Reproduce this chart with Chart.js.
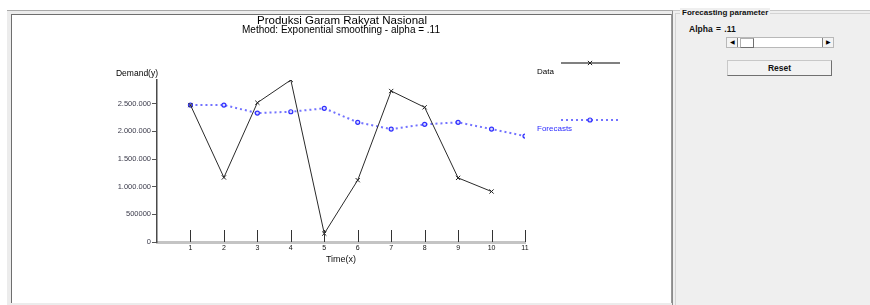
<!DOCTYPE html>
<html>
<head>
<meta charset="utf-8">
<script src="https://cdn.jsdelivr.net/npm/chart.js@4"></script>
<style>
  body { margin: 0; width: 870px; height: 305px; background: #fff; position: relative; overflow: hidden; font-family: "Liberation Sans", Arial, sans-serif; }
  .outer { position: absolute; left: 7px; top: 10px; width: 667px; height: 295px; background: #ececec; border-top: 1px solid #a8a8a8; }
  .panel { position: absolute; left: 11px; top: 14px; width: 659px; height: 288px; background: #fff; border-left: 1px solid #6e6e6e; border-top: 1px solid #6e6e6e; border-right: 1px solid #9a9a9a; }
  .side { position: absolute; left: 672px; top: 10px; width: 198px; height: 295px; background: #efefef; border-left: 1px solid #8a8a8a; border-top: 1px solid #c8c8c8; }
  .group { position: absolute; left: 675px; top: 13px; width: 200px; height: 300px; border-left: 1px solid #d4d4d4; border-top: 1px solid #d4d4d4; }
  .group-title { position: absolute; left: 680px; top: 8px; padding: 0 2px; background: #efefef; font-size: 8px; font-weight: bold; color: #111; }
  .alpha { position: absolute; left: 689px; top: 24px; font-size: 8.5px; font-weight: bold; color: #111; word-spacing: 1px; }
  .scroll { position: absolute; left: 726px; top: 37px; width: 106px; height: 9px; background: #fff; border: 1px solid #b8b8b8; }
  .arrow { position: absolute; top: 0; width: 10px; height: 9px; background: #f4f4f4; border-right: 1px solid #808080; font-size: 6px; line-height: 9px; text-align: center; color: #000; }
  .thumb { position: absolute; left: 13px; top: 0; width: 12px; height: 8px; border: 1px solid #b0b0b0; border-right-color: #707070; border-bottom-color: #707070; background: #fff; }
  .reset { position: absolute; left: 727px; top: 60px; width: 103px; height: 14px; background: #f2f2f2; border: 1px solid #c8c8c8; border-right-color: #707070; border-bottom-color: #707070; font-size: 8.5px; font-weight: bold; text-align: center; line-height: 14px; color: #111; }
  canvas { position: absolute; left: 0; top: 0; }
</style>
</head>
<body>
<div class="outer"></div>
<div class="panel"></div>
<div class="side"></div>
<div class="group"></div>
<div class="group-title">Forecasting parameter</div>
<div class="alpha">Alpha = .11</div>
<div class="scroll">
  <div class="arrow" style="left:0">&#9664;</div>
  <div class="thumb"></div>
  <div class="arrow" style="right:0;border-right:none;border-left:1px solid #808080">&#9654;</div>
</div>
<div class="reset">Reset</div>
<canvas id="cv" width="870" height="305"></canvas>
<script>
// periods (x) and series
const periods = [1, 2, 3, 4, 5, 6, 7, 8, 9, 10, 11];
const demand = [2476000, 1167000, 2518000, 2929000, 152000, 1118000, 2730000, 2435000, 1159000, 913000];
const forecasts = [2476000, 2476000, 2331000, 2355000, 2417000, 2163000, 2042000, 2127000, 2163000, 2042000, 1915000];
const yTickValues = [0, 500000, 1000000, 1500000, 2000000, 2500000];
const yTickLabels = ["0", "500000", "1.000.000", "1.500.000", "2.000.000", "2.500.000"];

const chartTitle = "Produksi Garam Rakyat Nasional";
const chartSubtitle = "Method: Exponential smoothing - alpha = .11";

const FONT = '"Liberation Sans", Arial, sans-serif';

// titles, y-axis caption, upward x ticks and the legend
const extras = {
    id: 'extras',
    afterDraw(chart) {
        const ctx = chart.ctx;
        const xs = chart.scales.x;
        const ys = chart.scales.y;
        ctx.save();
        ctx.fillStyle = '#000';
        ctx.textAlign = 'center';
        ctx.textBaseline = 'middle';
        ctx.font = '11.5px ' + FONT;
        ctx.fillText(chartTitle, 342, 21);
        ctx.font = '10px ' + FONT;
        ctx.fillText(chartSubtitle, 341, 30);
        ctx.font = '8.5px ' + FONT;
        ctx.fillText('Demand(y)', 137, 74);

        // tick marks pointing up from the x axis
        ctx.strokeStyle = '#333';
        ctx.lineWidth = 1;
        const base = ys.getPixelForValue(0);
        periods.forEach(p => {
            const px = Math.round(xs.getPixelForValue(p)) + 0.5;
            ctx.beginPath();
            ctx.moveTo(px, base - 12);
            ctx.lineTo(px, base);
            ctx.stroke();
        });

        // legend
        const d0 = chart.data.datasets[0];
        const d1 = chart.data.datasets[1];
        ctx.textAlign = 'left';
        ctx.font = '8px ' + FONT;

        ctx.strokeStyle = '#808080';
        ctx.lineWidth = 2;
        ctx.beginPath();
        ctx.moveTo(561, 63);
        ctx.lineTo(620, 63);
        ctx.stroke();
        ctx.strokeStyle = '#222';
        ctx.lineWidth = 1;
        Chart.helpers.drawPoint(ctx, { pointStyle: d0.pointStyle, radius: d0.pointRadius, borderWidth: 1 }, 590, 63);
        ctx.fillStyle = '#000';
        ctx.fillText('Data', 537, 72);

        ctx.strokeStyle = d1.borderColor;
        ctx.lineWidth = 2;
        ctx.setLineDash(d1.borderDash);
        ctx.beginPath();
        ctx.moveTo(561, 120);
        ctx.lineTo(620, 120);
        ctx.stroke();
        ctx.setLineDash([]);
        ctx.strokeStyle = d1.pointBorderColor;
        ctx.fillStyle = d1.pointBackgroundColor;
        ctx.lineWidth = d1.pointBorderWidth;
        Chart.helpers.drawPoint(ctx, { pointStyle: 'circle', radius: d1.pointRadius, borderWidth: d1.pointBorderWidth }, 590, 120);
        ctx.fillStyle = '#2b2bff';
        ctx.fillText('Forecasts', 537, 129);
        ctx.restore();
    }
};

const cv = document.getElementById('cv').getContext('2d');
const myChart = new Chart(cv, {
    type: 'line',
    data: {
        datasets: [{
            label: 'Data',
            data: demand.map((v, i) => ({ x: periods[i], y: v })),
            borderColor: '#2a2a2a',
            borderWidth: 1,
            pointStyle: 'crossRot',
            pointRadius: 3,
            pointBorderColor: '#222',
            pointBorderWidth: 1,
            tension: 0
        }, {
            label: 'Forecasts',
            data: forecasts.map((v, i) => ({ x: periods[i], y: v })),
            borderColor: '#7373ff',
            borderWidth: 2,
            borderDash: [2, 3],
            pointStyle: 'circle',
            pointRadius: 2,
            pointBorderColor: '#3030ff',
            pointBackgroundColor: '#d8d8ff',
            pointBorderWidth: 1.2,
            tension: 0
        }]
    },
    options: {
        responsive: false,
        animation: false,
        devicePixelRatio: 1,
        layout: {
            padding: { left: 0, top: 80, right: 345, bottom: 0 }
        },
        scales: {
            x: {
                type: 'linear',
                min: 0,
                max: 11,
                afterFit: s => { s.height = 63; },
                grid: { display: false, drawTicks: false },
                border: { display: true, color: '#c4c4c4', width: 3 },
                ticks: {
                    stepSize: 1,
                    autoSkip: false,
                    maxRotation: 0,
                    padding: 2,
                    color: '#111',
                    font: { size: 7, family: FONT },
                    callback: v => v === 0 ? '' : String(v)
                },
                title: {
                    display: true,
                    text: 'Time(x)',
                    color: '#111',
                    font: { size: 9, family: FONT },
                    padding: { top: 0, bottom: 40 }
                }
            },
            y: {
                type: 'linear',
                min: 0,
                max: Math.max(...demand),
                afterFit: s => { s.width = 157; },
                afterBuildTicks: s => { s.ticks = yTickValues.map(v => ({ value: v })); },
                grid: { display: true, drawOnChartArea: false, drawTicks: true, tickLength: 5, color: '#555' },
                border: { display: true, color: '#4a4a4a', width: 1.5 },
                ticks: {
                    padding: 1,
                    color: '#3a3a4a',
                    font: { size: 7.5, family: FONT },
                    callback: v => yTickLabels[yTickValues.indexOf(v)]
                }
            }
        },
        plugins: {
            legend: { display: false },
            tooltip: { enabled: false }
        }
    },
    plugins: [extras]
});
</script>
</body>
</html>
